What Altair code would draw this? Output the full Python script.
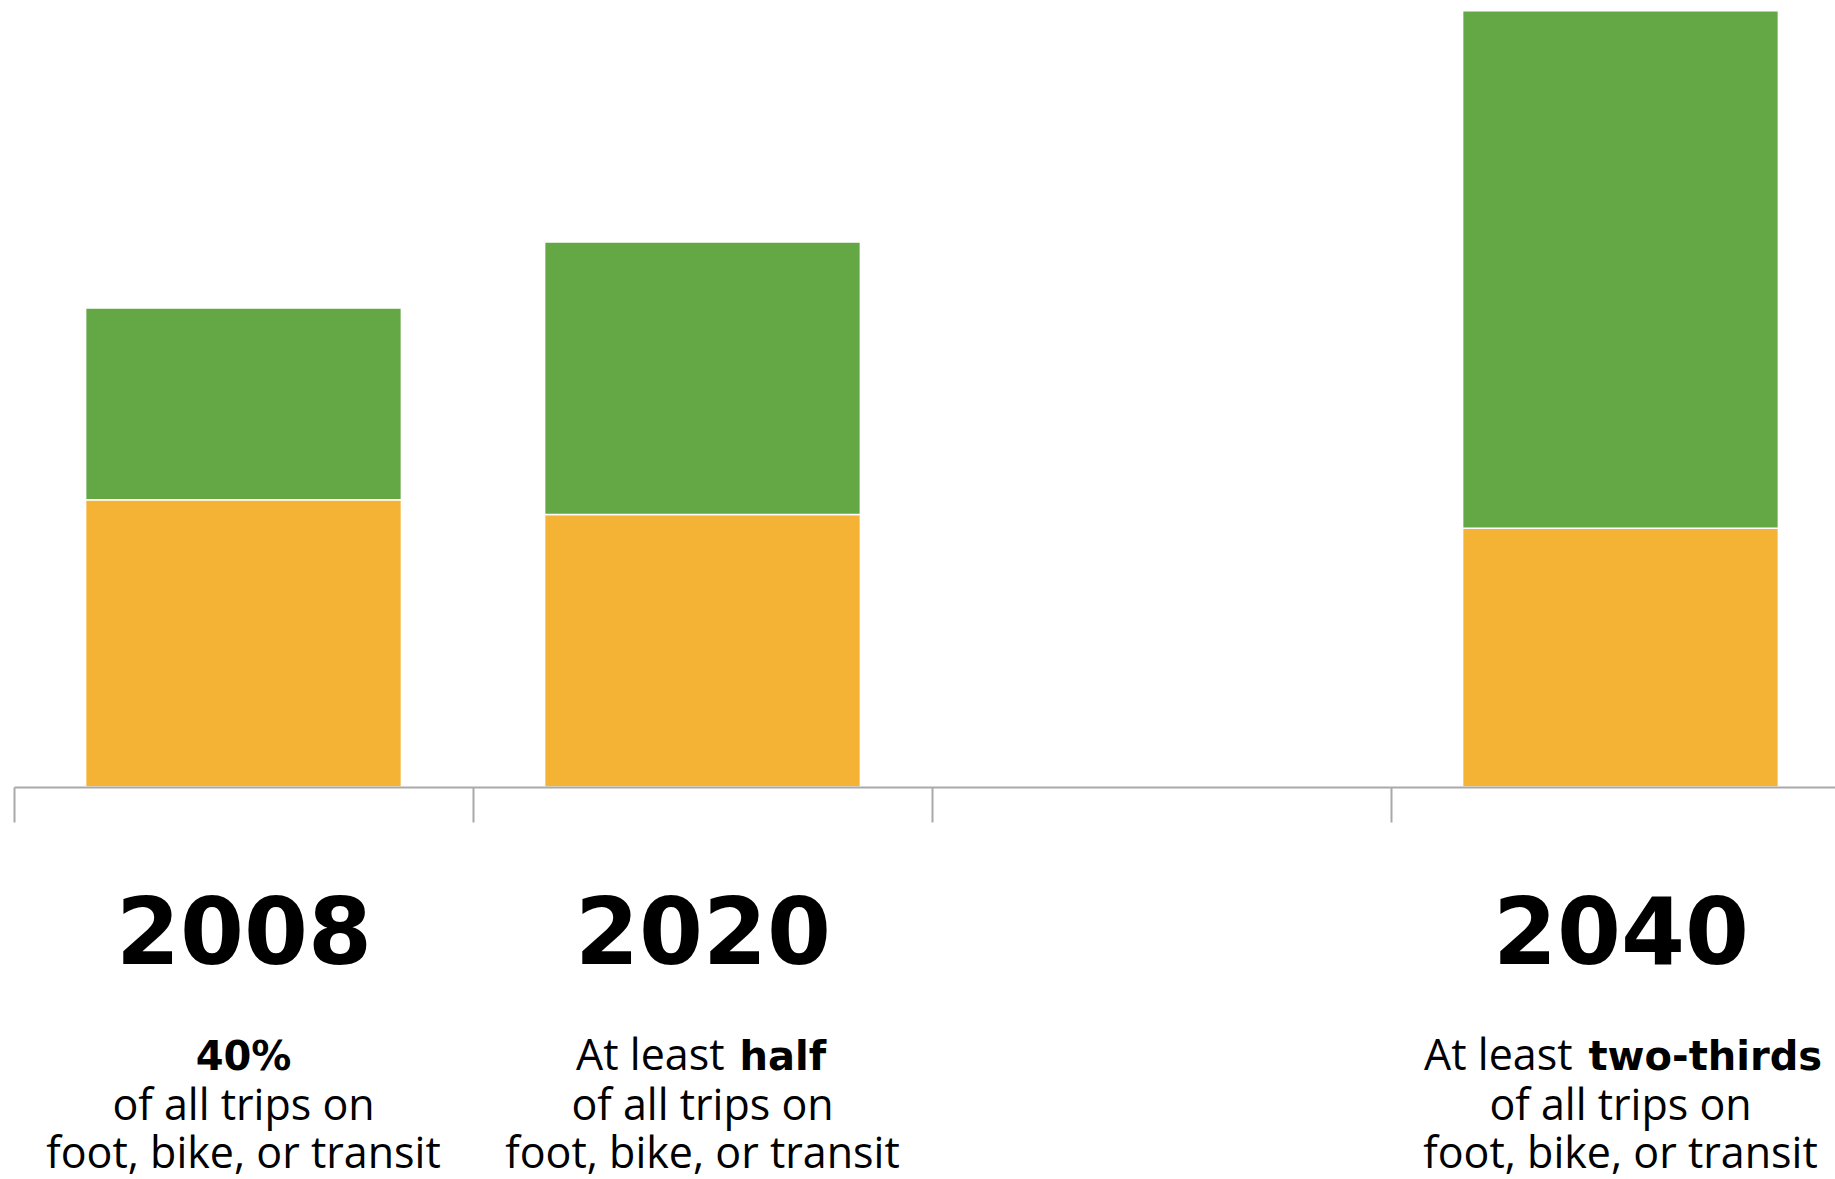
import altair as alt
import pandas as pd

# ---- data (arbitrary units, e.g. million daily trips) ----
categories = ["2008", "2020", " ", "2040"]
years = ["2008", "2020", "2040"]
car_trips = [2.92, 2.77, 2.63]
active_trips = [1.95, 2.77, 5.26]
modes = ["Car", "Foot, bike, or transit"]
mode_colors = ["#F5B335", "#64A846"]

lead_regular = ["", "At least", "At least"]
lead_bold = ["40%", "half", "two-thirds"]
line2_text = ["of all trips on", "of all trips on", "of all trips on"]
line3_text = ["foot, bike, or transit", "foot, bike, or transit", "foot, bike, or transit"]

bars_df = pd.DataFrame({
    "year": years + years,
    "mode": [modes[0]] * 3 + [modes[1]] * 3,
    "trips": car_trips + active_trips,
    "stack_order": [0] * 3 + [1] * 3,
})
text_df = pd.DataFrame({
    "year": years,
    "regular": lead_regular,
    "bold": lead_bold,
    "line2": line2_text,
    "line3": line3_text,
})

W = 1821
H = 787
BAND_RANGE = 1836

x_enc = alt.X(
    "year:N",
    title=None,
    scale=alt.Scale(domain=categories, range=[0, BAND_RANGE],
                    paddingInner=0, paddingOuter=0),
    axis=alt.Axis(
        tickBand="extent", tickSize=35, tickWidth=2, tickColor="#a9a9a9",
        domainColor="#a9a9a9", domainWidth=2,
        labelFont="DejaVu Sans", labelFontWeight="bold", labelFontSize=92,
        labelColor="black", labelBaseline="alphabetic", labelPadding=141,
        labelAngle=0, labelLimit=1000, labelOverlap=False, labelFlush=False,
        zindex=1,
    ),
)
y_scale = alt.Scale(domain=[0, 8], nice=False)

bars = alt.Chart(bars_df).mark_bar(
    stroke="white", strokeWidth=1.5, width=alt.RelativeBandSize(0.688)
).encode(
    x=x_enc,
    y=alt.Y("trips:Q", stack="zero", scale=y_scale, axis=None),
    color=alt.Color("mode:N", scale=alt.Scale(domain=modes, range=mode_colors), legend=None),
    order=alt.Order("stack_order:Q"),
)

REG_FONT = "Open Sans"
BOLD_FONT = "DejaVu Sans"
FS = 43
FS_B = 40


def txt(field, year=None, font=REG_FONT, weight="normal", size=FS, align="center", dx=0, dy=0):
    ch = alt.Chart(text_df)
    if year is not None:
        ch = ch.transform_filter(alt.datum.year == year)
    return ch.mark_text(font=font, fontWeight=weight, fontSize=size, align=align,
                        baseline="alphabetic", dx=dx, dy=dy, color="black").encode(
        x=x_enc, y=alt.datum(0), text=f"{field}:N")


layers = [
    bars,
    txt("bold", "2008", font=BOLD_FONT, weight="bold", size=FS_B, dy=283),
    txt("regular", "2020", align="right", dx=22, dy=283),
    txt("bold", "2020", font=BOLD_FONT, weight="bold", size=FS_B, align="left", dx=37, dy=283),
    txt("regular", "2040", align="right", dx=-48, dy=283),
    txt("bold", "2040", font=BOLD_FONT, weight="bold", size=FS_B, align="left", dx=-32, dy=283),
    txt("line2", dy=333),
    txt("line3", dy=381),
]

chart = alt.layer(*layers).properties(
    width=W, height=H,
    padding={"left": 14, "top": 0, "right": 0, "bottom": 392},
    autosize=alt.AutoSizeParams(type="none"),
    background="white",
).configure_view(strokeWidth=0)

chart.save("out.html", embed_options={"renderer": "svg", "actions": False})
